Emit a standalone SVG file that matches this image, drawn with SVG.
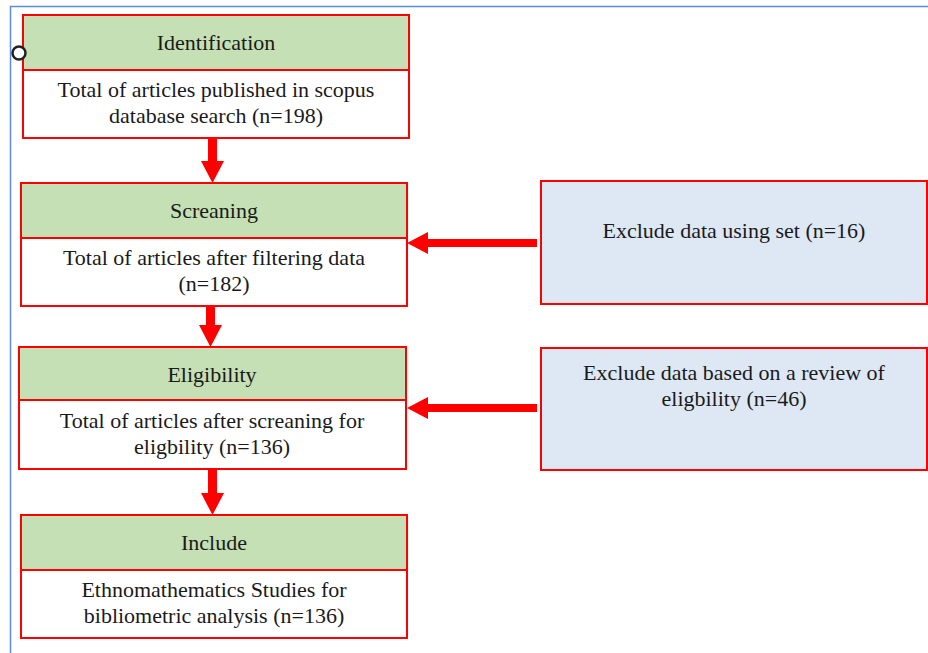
<svg xmlns="http://www.w3.org/2000/svg" width="928" height="653" viewBox="0 0 928 653" font-family="'Liberation Serif', 'Times New Roman', Tinos, 'DejaVu Serif', serif">
  <style>
    .frame { fill: none; stroke: #5b8bd9; stroke-width: 1.5; }
    .box { stroke: #ff0000; stroke-width: 2; }
    .head { fill: #c5e0b4; }
    .body { fill: #ffffff; }
    .side { fill: #dee8f5; }
    text { font-family: 'Times New Roman', 'Liberation Serif', 'DejaVu Serif', serif; font-size: 22px; fill: #1a1a1a; text-anchor: middle; }
    .arrow { fill: #ff0000; }
  </style>

  <!-- page frame -->
  <path class="frame" d="M10.5 653 V6.5 H928"/>

  <!-- stage: identification -->
  <g id="identification">
    <rect class="box body" x="23" y="15" width="386" height="123"/>
    <rect class="box head" x="23" y="15" width="386" height="55"/>
    <text x="216" y="50">Identification</text>
    <text x="216" y="97">Total of articles published in scopus</text>
    <text x="216" y="123">database search (n=198)</text>
  </g>

  <!-- stage: screening -->
  <g id="screening">
    <rect class="box body" x="21" y="183" width="386" height="123"/>
    <rect class="box head" x="21" y="183" width="386" height="55"/>
    <text x="214" y="218">Screaning</text>
    <text x="214" y="265">Total of articles after filtering data</text>
    <text x="214" y="291">(n=182)</text>
  </g>

  <!-- stage: eligibility -->
  <g id="eligibility">
    <rect class="box body" x="19" y="347" width="387" height="122"/>
    <rect class="box head" x="19" y="347" width="387" height="53"/>
    <text x="212" y="382">Eligibility</text>
    <text x="212" y="428">Total of articles after screaning for</text>
    <text x="212" y="454">eligbility (n=136)</text>
  </g>

  <!-- stage: include -->
  <g id="include">
    <rect class="box body" x="21" y="515" width="386" height="123"/>
    <rect class="box head" x="21" y="515" width="386" height="55"/>
    <text x="214" y="550">Include</text>
    <text x="214" y="597">Ethnomathematics Studies for</text>
    <text x="214" y="623">bibliometric analysis (n=136)</text>
  </g>

  <!-- exclusion: screening -->
  <g id="exclude-set">
    <rect class="box side" x="541" y="181" width="386" height="123"/>
    <text x="734" y="238">Exclude data using set (n=16)</text>
  </g>

  <!-- exclusion: eligibility -->
  <g id="exclude-review">
    <rect class="box side" x="541" y="348" width="386" height="122"/>
    <text x="734" y="380">Exclude data based on a review of</text>
    <text x="734" y="406">eligbility (n=46)</text>
  </g>

  <!-- connectors -->
  <g id="connectors">
    <!-- downward arrows -->
    <path class="arrow" d="M208 139 H217 V161 H224 L212.5 183 L201 161 H208 Z"/>
    <path class="arrow" d="M206 307 H215 V325 H222 L210.5 347 L199 325 H206 Z"/>
    <path class="arrow" d="M208 470 H217 V493 H224 L212.5 515 L201 493 H208 Z"/>
    <!-- leftward arrows -->
    <path class="arrow" d="M537 239 V247 H428 V254 L407 243 L428 232 V239 Z"/>
    <path class="arrow" d="M537 404 V412 H428 V419 L407 408 L428 397 V404 Z"/>
  </g>

  <!-- handle on the first box -->
  <circle cx="19" cy="53" r="6.5" fill="#ffffff" stroke="#222222" stroke-width="2.5"/>
</svg>
